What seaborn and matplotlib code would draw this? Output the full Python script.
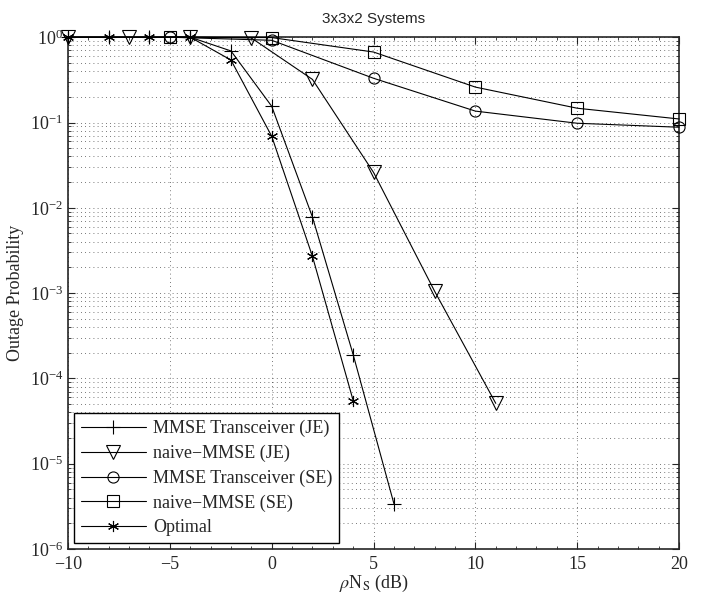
import numpy as np
import pandas as pd
import matplotlib
matplotlib.use("Agg")
import matplotlib.pyplot as plt
import seaborn as sns
from matplotlib.ticker import MultipleLocator, LogLocator, NullFormatter

# data
x_mmse_je = [-10, -8, -6, -4, -2, 0, 2, 4, 6]
y_mmse_je = [1.0, 1.0, 1.0, 1.0, 0.69, 0.155, 7.8e-3, 1.9e-4, 3.4e-6]

x_naive_je = [-10, -7, -4, -1, 2, 5, 8, 11]
y_naive_je = [1.0, 1.0, 1.0, 0.98, 0.32, 0.026, 1.05e-3, 5.1e-5]

x_mmse_se = [-5, 0, 5, 10, 15, 20]
y_mmse_se = [1.0, 0.92, 0.33, 0.136, 0.098, 0.088]

x_naive_se = [-5, 0, 5, 10, 15, 20]
y_naive_se = [1.0, 0.99, 0.67, 0.26, 0.147, 0.11]

x_opt = [-10, -8, -6, -4, -2, 0, 2, 4]
y_opt = [1.0, 1.0, 1.0, 1.0, 0.54, 0.069, 2.7e-3, 5.5e-5]

labels = ["MMSE Transceiver (JE)", "naive\u2212MMSE (JE)",
          "MMSE Transceiver (SE)", "naive\u2212MMSE (SE)", "Optimal"]

sns.set_style("ticks")
plt.rcParams['font.family'] = ['Liberation Serif', 'DejaVu Serif']
plt.rcParams['mathtext.fontset'] = 'stix'
plt.rcParams['xtick.direction'] = 'in'
plt.rcParams['ytick.direction'] = 'in'

fig = plt.figure(figsize=(7.04, 6.0), dpi=100)
ax = fig.add_axes([0.0966, 0.085, 0.868, 0.853])

series = [
    (x_mmse_je, y_mmse_je, '+', 10),
    (x_naive_je, y_naive_je, 'v', 10),
    (x_mmse_se, y_mmse_se, 'o', 8),
    (x_naive_se, y_naive_se, 's', 8),
    (x_opt, y_opt, (6, 2, 0), 8),
]
for (xs, ys, mk, ms), lab in zip(series, labels):
    df = pd.DataFrame({"x": xs, "y": ys})
    sns.lineplot(data=df, x="x", y="y", ax=ax, color='k', linewidth=0.8,
                 marker=mk, markersize=ms, markerfacecolor='none',
                 markeredgecolor='k', markeredgewidth=0.8, label=lab,
                 clip_on=False, zorder=3)

ax.set_yscale('log')
ax.set_xlim(-10, 20)
ax.set_ylim(1e-6, 1)
ax.xaxis.set_major_locator(MultipleLocator(5))
ax.xaxis.set_minor_locator(MultipleLocator(1))
ax.yaxis.set_major_locator(LogLocator(base=10, numticks=10))
ax.yaxis.set_minor_locator(LogLocator(base=10, subs=np.arange(2, 10), numticks=20))
ax.yaxis.set_minor_formatter(NullFormatter())
ax.tick_params(which='both', top=True, right=True, labelsize=13)
ax.tick_params(which='major', length=5)
ax.tick_params(which='minor', length=2.5)
ax.tick_params(axis='x', pad=5)

dots = (0, (1, 4))
ax.grid(True, which='major', axis='x', linestyle=dots, color='k', linewidth=0.6, alpha=0.7)
ax.grid(True, which='both', axis='y', linestyle=dots, color='k', linewidth=0.6, alpha=0.7)
for s in ax.spines.values():
    s.set_linewidth(1.2)
    s.set_visible(True)

ax.set_xlabel(r'$\rho$N$_{\mathrm{S}}$ (dB)', fontsize=13, labelpad=0)
ax.set_ylabel('Outage Probability', fontsize=13, labelpad=4)
ax.set_title('3x3x2 Systems', fontsize=11, family='Liberation Sans', pad=10)

leg = ax.legend(loc='lower left', fontsize=13, frameon=True, fancybox=False,
                edgecolor='k', framealpha=1, borderaxespad=0.35,
                handlelength=3.6, labelspacing=0.42, borderpad=0.35,
                handletextpad=0.4)
leg.get_frame().set_linewidth(1.0)

fig.savefig('out.png', dpi=100)
